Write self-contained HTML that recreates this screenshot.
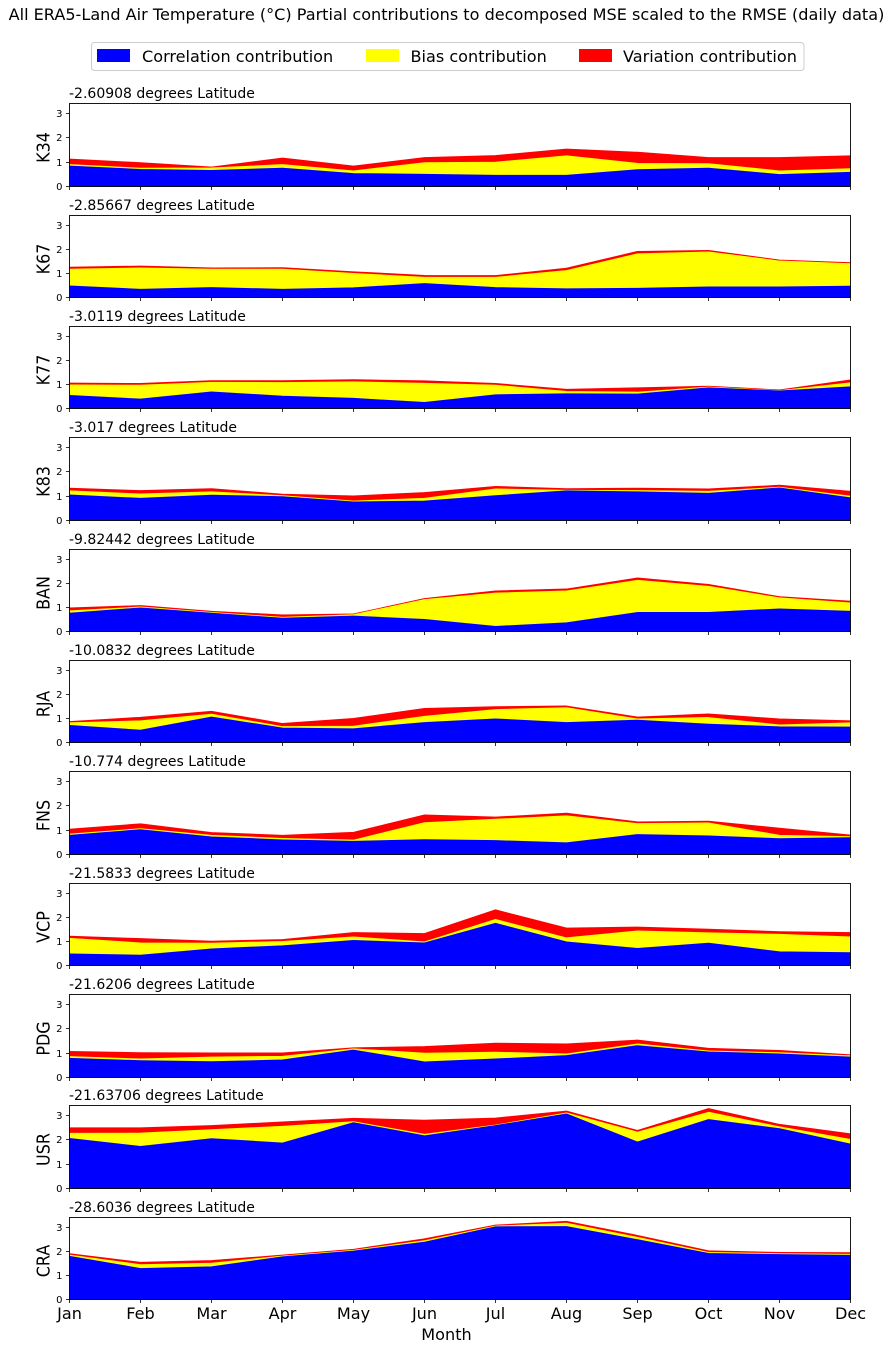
<!DOCTYPE html>
<html lang="en">
<head>
<meta charset="utf-8">
<title>ERA5-Land Air Temperature Partial Contributions</title>
<style>
  html, body { margin: 0; padding: 0; background: #fff; }
  body { width: 892px; height: 1349px; overflow: hidden; }
  svg { display: block; font-family: "DejaVu Sans", "Liberation Sans", sans-serif; }
  text { fill: #000; }
</style>
</head>
<body>
<svg id="chart" xmlns="http://www.w3.org/2000/svg" width="892" height="1349" viewBox="0 0 892 1349">
  <rect x="0" y="0" width="892" height="1349" fill="#fff"/>
  <text x="446.5" y="20" font-size="16.08" text-anchor="middle">All ERA5-Land Air Temperature (°C) Partial contributions to decomposed MSE scaled to the RMSE (daily data)</text>
  <g>
    <rect x="91.5" y="42.5" width="712.5" height="28" rx="3" ry="3" fill="#fff" stroke="#ccc" stroke-width="1"/>
    <rect x="97" y="49" width="33" height="13" fill="#0000ff"/>
    <text x="142" y="62" font-size="16.08">Correlation contribution</text>
    <rect x="366" y="49" width="33" height="13" fill="#ffff00"/>
    <text x="410.5" y="62" font-size="16.08">Bias contribution</text>
    <rect x="579" y="49" width="33" height="13" fill="#ff0000"/>
    <text x="623" y="62" font-size="16.08">Variation contribution</text>
  </g>
  <text x="446.5" y="1340" font-size="16.08" text-anchor="middle">Month</text>
</svg>
<script>
const months = ["Jan","Feb","Mar","Apr","May","Jun","Jul","Aug","Sep","Oct","Nov","Dec"];
const stations = ["K34","K67","K77","K83","BAN","RJA","FNS","VCP","PDG","USR","CRA"];
const latitudes = ["-2.60908","-2.85667","-3.0119","-3.017","-9.82442","-10.0832","-10.774","-21.5833","-21.6206","-21.63706","-28.6036"];
const yTickLabels = [0, 1, 2, 3];

const correlation = [
  [.84,.70,.66,.75,.53,.50,.46,.46,.69,.75,.49,.58],
  [.48,.34,.41,.34,.40,.58,.41,.36,.38,.44,.44,.47],
  [.54,.39,.69,.51,.42,.25,.57,.61,.60,.86,.73,.90],
  [1.05,.91,1.04,.98,.76,.80,1.02,1.22,1.18,1.12,1.34,.93],
  [.76,.98,.76,.55,.64,.50,.21,.36,.79,.79,.94,.84],
  [.71,.51,1.06,.60,.57,.83,.98,.83,.93,.76,.65,.64],
  [.79,1.02,.72,.60,.54,.61,.57,.48,.82,.76,.65,.69],
  [.48,.43,.69,.82,1.04,.94,1.76,.98,.71,.93,.57,.53],
  [.79,.69,.65,.72,1.13,.64,.76,.90,1.31,1.05,.97,.84],
  [2.06,1.73,2.05,1.87,2.71,2.17,2.59,3.07,1.91,2.84,2.46,1.83],
  [1.80,1.29,1.36,1.78,2.02,2.39,3.03,3.04,2.49,1.92,1.87,1.84]
];
const bias = [
  [.06,.05,.10,.15,.11,.48,.54,.80,.26,.19,.15,.15],
  [.70,.89,.77,.84,.60,.26,.43,.76,1.44,1.46,1.08,.94],
  [.44,.58,.40,.57,.69,.80,.40,.10,.08,.03,.01,.17],
  [.17,.18,.14,.04,.04,.11,.28,.02,.05,.08,.03,.07],
  [.10,.04,.03,.04,.06,.83,1.39,1.33,1.34,1.09,.46,.35],
  [.11,.39,.12,.06,.11,.26,.39,.62,.05,.28,.08,.18],
  [.05,.04,.07,.06,.05,.70,.88,1.11,.45,.54,.14,.04],
  [.65,.51,.24,.18,.15,.04,.16,.17,.73,.43,.73,.66],
  [.07,.07,.19,.15,.05,.36,.28,.07,.07,.04,.05,.05],
  [.21,.55,.37,.69,.04,.06,.02,.04,.41,.30,.08,.19],
  [.05,.16,.15,.03,.03,.06,.03,.14,.10,.04,.04,.04]
];
const variation = [
  [.23,.23,.04,.27,.20,.21,.27,.28,.46,.25,.55,.53],
  [.08,.08,.05,.06,.07,.08,.07,.10,.10,.06,.04,.04],
  [.08,.07,.07,.08,.09,.10,.07,.09,.18,.04,.03,.12],
  [.11,.14,.13,.06,.21,.24,.10,.07,.10,.10,.08,.20],
  [.12,.06,.05,.10,.03,.04,.09,.08,.10,.08,.05,.07],
  [.05,.15,.12,.13,.32,.33,.12,.07,.08,.15,.25,.08],
  [.20,.20,.11,.13,.32,.32,.09,.11,.07,.07,.29,.07],
  [.09,.18,.08,.08,.18,.35,.40,.41,.16,.15,.11,.18],
  [.21,.26,.17,.14,.04,.27,.37,.41,.16,.11,.09,.04],
  [.23,.22,.17,.18,.14,.58,.29,.08,.07,.15,.10,.23],
  [.06,.10,.11,.04,.04,.08,.04,.08,.08,.07,.05,.07]
];

const SVG_NS = "http://www.w3.org/2000/svg";
const svg = document.getElementById("chart");
const plotLeft = 69.5;
const plotRight = 850.5;
const yMax = 3.42;
const panelStep = 111.36;
const panelOrigin = 103.7;
const panelHeight = 82.45;

function make(tag, parent) {
  const el = document.createElementNS(SVG_NS, tag);
  parent.appendChild(el);
  return el;
}
function panelTop(p) { return Math.floor(panelOrigin + p * panelStep) + 0.5; }
function panelBottom(p) { return Math.floor(panelOrigin + p * panelStep + panelHeight) + 0.5; }
function xScale(i) { return plotLeft + (plotRight - plotLeft) * i / (months.length - 1); }
function yScale(v, p) { return panelBottom(p) - v * (panelBottom(p) - panelTop(p)) / yMax; }

function areaPath(lower, upper, p) {
  let d = "";
  for (let i = 0; i < upper.length; i++) d += (i ? "L" : "M") + xScale(i).toFixed(2) + " " + yScale(upper[i], p).toFixed(2);
  for (let i = lower.length - 1; i >= 0; i--) d += "L" + xScale(i).toFixed(2) + " " + yScale(lower[i], p).toFixed(2);
  return d + "Z";
}

stations.forEach(function (station, p) {
  const group = make("g", svg);
  
  

  const clip = make("clipPath", group);
  clip.setAttribute("id", "clip-" + p);
  const clipRect = make("rect", clip);
  clipRect.setAttribute("x", plotLeft);
  clipRect.setAttribute("y", panelTop(p));
  clipRect.setAttribute("width", plotRight - plotLeft);
  clipRect.setAttribute("height", panelBottom(p) - panelTop(p));

  const areas = make("g", group);
  
  
  areas.setAttribute("clip-path", "url(#clip-" + p + ")");
  areas.setAttribute("stroke-width", "1");
  areas.setAttribute("stroke-linejoin", "round");

  const base = months.map(function () { return 0; });
  const s1 = correlation[p].map(function (v) { return v; });
  const s2 = s1.map(function (v, i) { return v + bias[p][i]; });
  const s3 = s2.map(function (v, i) { return v + variation[p][i]; });

  const areaVariation = make("path", areas);
  
  
  areaVariation.setAttribute("d", areaPath(s2, s3, p));
  areaVariation.setAttribute("fill", "#ff0000");
  areaVariation.setAttribute("stroke", "#ff0000");

  const areaBias = make("path", areas);
  
  
  areaBias.setAttribute("d", areaPath(s1, s2, p));
  areaBias.setAttribute("fill", "#ffff00");
  areaBias.setAttribute("stroke", "#ffff00");

  const areaCorrelation = make("path", areas);
  
  
  areaCorrelation.setAttribute("d", areaPath(base, s1, p));
  areaCorrelation.setAttribute("fill", "#0000ff");
  areaCorrelation.setAttribute("stroke", "#0000ff");

  const frame = make("rect", group);
  
  
  frame.setAttribute("x", plotLeft);
  frame.setAttribute("y", panelTop(p));
  frame.setAttribute("width", plotRight - plotLeft);
  frame.setAttribute("height", panelBottom(p) - panelTop(p));
  frame.setAttribute("fill", "none");
  frame.setAttribute("stroke", "#000");
  frame.setAttribute("stroke-width", "0.9");

  const subtitle = make("text", group);
  
  
  subtitle.setAttribute("x", plotLeft - 0.5);
  subtitle.setAttribute("y", panelTop(p) - 5.5);
  subtitle.setAttribute("font-size", "14");
  subtitle.textContent = latitudes[p] + " degrees Latitude";

  const yLabel = make("text", group);
  
  
  const yLabelY = (panelTop(p) + panelBottom(p)) / 2 + 2.5;
  yLabel.setAttribute("transform", "translate(49.7 " + yLabelY + ") rotate(-90) scale(1 1.1)");
  yLabel.setAttribute("font-size", "16");
  yLabel.setAttribute("text-anchor", "middle");
  yLabel.textContent = station;

  yTickLabels.forEach(function (tick) {
    const y = Math.floor(yScale(tick, p)) + 0.5;
    const mark = make("line", group);
    
    
    mark.setAttribute("x1", plotLeft - 3.5);
    mark.setAttribute("x2", plotLeft);
    mark.setAttribute("y1", y);
    mark.setAttribute("y2", y);
    mark.setAttribute("stroke", "#000");
    mark.setAttribute("stroke-width", "0.8");
    const label = make("text", group);
    
    
    label.setAttribute("x", plotLeft - 7);
    label.setAttribute("y", y + 3.6);
    label.setAttribute("font-size", "10");
    label.setAttribute("text-anchor", "end");
    label.textContent = tick;
  });

  months.forEach(function (month, i) {
    const mark = make("line", group);
    
    
    const x = Math.floor(xScale(i)) + 0.5;
    mark.setAttribute("x1", x);
    mark.setAttribute("x2", x);
    mark.setAttribute("y1", panelBottom(p));
    mark.setAttribute("y2", panelBottom(p) + 3.5);
    mark.setAttribute("stroke", "#000");
    mark.setAttribute("stroke-width", "0.8");
    if (p === stations.length - 1) {
      const label = make("text", group);
      
      
      label.setAttribute("x", x);
      label.setAttribute("y", panelBottom(p) + 19.5);
      label.setAttribute("font-size", "16.08");
      label.setAttribute("text-anchor", "middle");
      label.textContent = month;
    }
  });
});
</script>
</body>
</html>
